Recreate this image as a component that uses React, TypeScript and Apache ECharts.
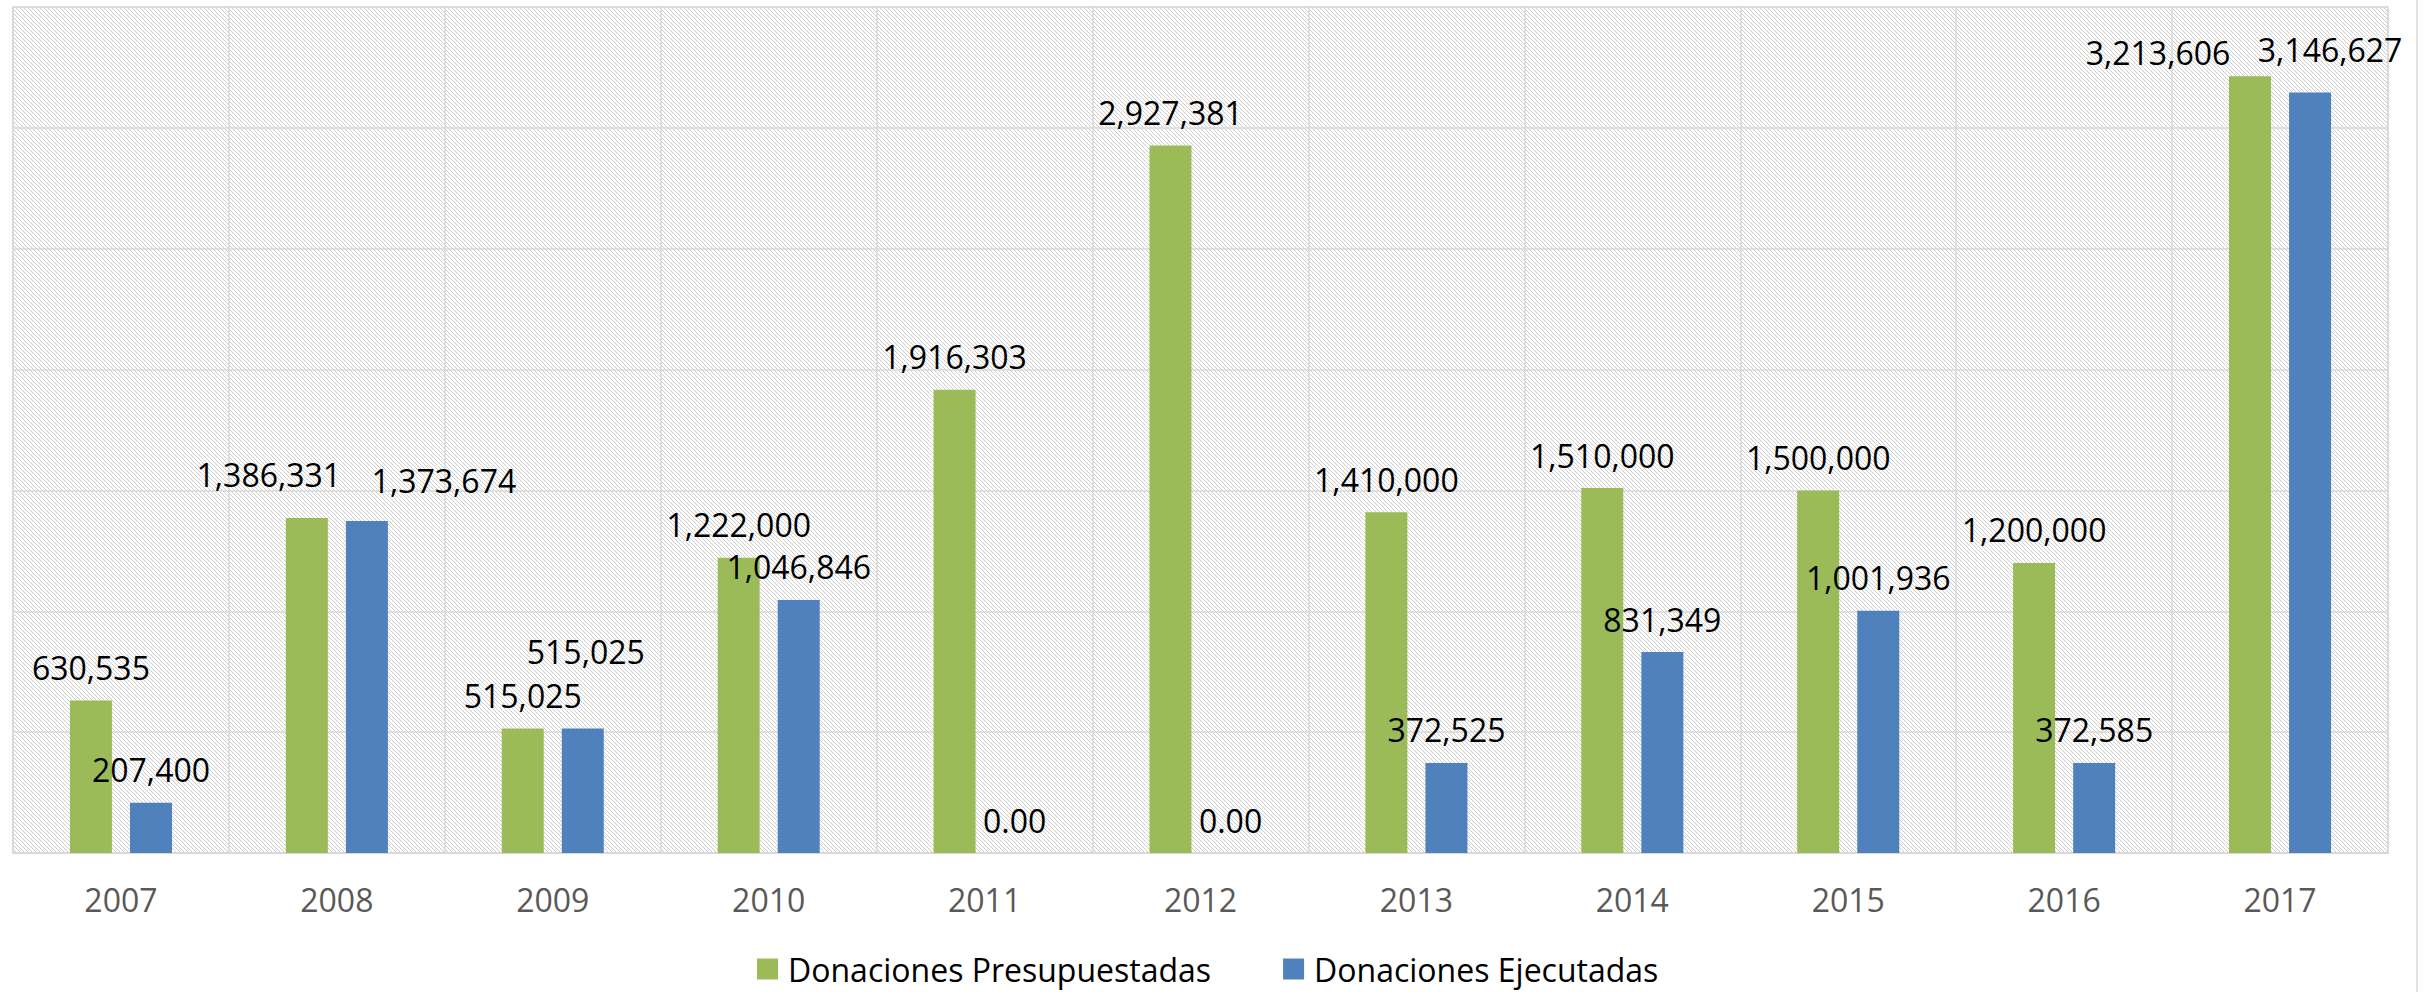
import React, { useEffect, useRef } from "react";
import * as echarts from "echarts";

const years = ["2007", "2008", "2009", "2010", "2011", "2012", "2013", "2014", "2015", "2016", "2017"];
const presupuestadas = [630535, 1386331, 515025, 1222000, 1916303, 2927381, 1410000, 1510000, 1500000, 1200000, 3213606];
const ejecutadas = [207400, 1373674, 515025, 1046846, 0, 0, 372525, 831349, 1001936, 372585, 3146627];
const seriesNames = ["Donaciones Presupuestadas", "Donaciones Ejecutadas"];

// label nudges (pixels) as placed in the original
const presLabelOffsets: number[][] = [[0, 0], [-38, -10], [0, 0], [0, 0], [0, 0], [0, 0], [0, 0], [0, 0], [0, 0], [0, 0], [-92, 9]];
const ejecLabelOffsets: number[][] = [[0, 0], [77, -7], [3, -44], [0, 0], [0, 0], [0, 0], [0, 0], [0, 0], [0, 0], [0, 0], [20, -10]];

const FONT = "'Open Sans', 'Noto Sans', sans-serif";

function fmt(v: number): string {
  if (v === 0) return "0.00";
  return v.toLocaleString("en-US");
}

export default function App() {
  const ref = useRef<HTMLDivElement>(null);
  useEffect(() => {
    if (!ref.current) return;
    const chart = echarts.init(ref.current, null, { renderer: "svg" });

    const cv = document.createElement("canvas");
    cv.width = 4;
    cv.height = 4;
    const ctx = cv.getContext("2d")!;
    ctx.fillStyle = "#ffffff";
    ctx.fillRect(0, 0, 4, 4);
    ctx.fillStyle = "#cdcdcd";
    for (let i = 0; i < 4; i++) ctx.fillRect(i, i, 1, 1);

    const mkData = (vals: number[], offs: number[][]) =>
      vals.map((v, i) => ({ value: v, label: { offset: offs[i] } }));

    chart.setOption({
      animation: false,
      backgroundColor: "#ffffff",
      textStyle: { fontFamily: FONT },
      grid: {
        left: 13,
        top: 7,
        width: 2375,
        height: 846,
        show: true,
        backgroundColor: { image: cv, repeat: "repeat", imageWidth: 4, imageHeight: 4 } as any,
        borderColor: "#d9d9d9",
        borderWidth: 1.5,
      },
      legend: {
        data: seriesNames,
        left: 752,
        top: 948,
        itemWidth: 21,
        itemHeight: 21,
        itemGap: 72,
        icon: "rect",
        textStyle: { fontSize: 32, color: "#000000", fontFamily: FONT, lineHeight: 32, padding: [0, 0, 0, 5] },
      },
      xAxis: {
        type: "category",
        data: years,
        axisLine: { show: true, lineStyle: { color: "#d9d9d9", width: 1.5 } },
        axisTick: { show: false },
        axisLabel: { fontSize: 32, color: "#595959", margin: 30, fontFamily: FONT },
        splitLine: { show: true, interval: 0, lineStyle: { color: "#d9d9d9", width: 1.5 } },
      },
      yAxis: {
        type: "value",
        min: 0,
        max: 3500000,
        interval: 500000,
        axisLabel: { show: false },
        axisLine: { show: false },
        axisTick: { show: false },
        splitLine: { show: true, lineStyle: { color: "#d9d9d9", width: 1.5 } },
      },
      graphic: [
        {
          type: "line",
          shape: { x1: 2417, y1: 0, x2: 2417, y2: 992 },
          style: { stroke: "#d9d9d9", lineWidth: 1.5 },
        },
      ],
      series: [
        {
          name: seriesNames[0],
          type: "bar",
          data: mkData(presupuestadas, presLabelOffsets),
          barWidth: 42,
          barGap: "43%",
          itemStyle: { color: "#9BBB59" },
          label: {
            show: true,
            position: "top",
            distance: 17,
            fontSize: 32,
            color: "#000000",
            fontFamily: FONT,
            formatter: (p: any) => fmt(p.value),
          },
        },
        {
          name: seriesNames[1],
          type: "bar",
          data: mkData(ejecutadas, ejecLabelOffsets),
          barWidth: 42,
          itemStyle: { color: "#4F81BD" },
          label: {
            show: true,
            position: "top",
            distance: 17,
            fontSize: 32,
            color: "#000000",
            fontFamily: FONT,
            formatter: (p: any) => fmt(p.value),
          },
        },
      ],
    });
    return () => chart.dispose();
  }, []);

  return (
    <div
      ref={ref}
      style={{ position: "absolute", left: 0, top: 0, width: 2433, height: 992 }}
    />
  );
}
